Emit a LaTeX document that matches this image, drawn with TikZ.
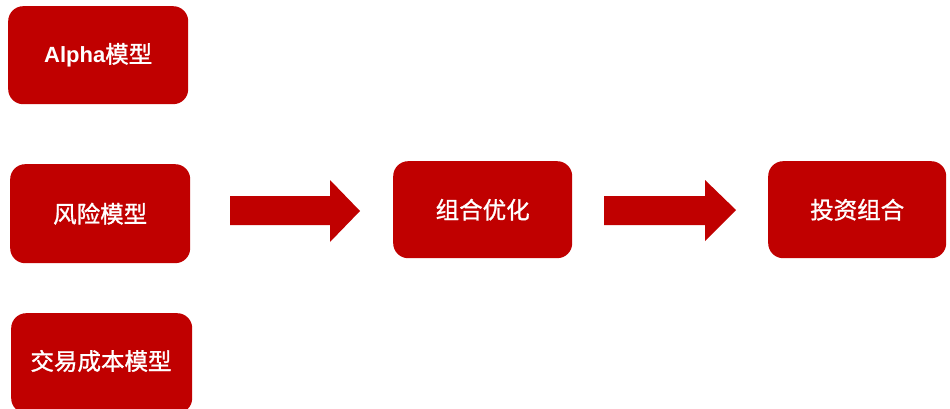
\documentclass[tikz,border=0pt]{standalone}
\usepackage{fontspec}
\setmainfont{Liberation Sans}
\newfontfamily\cjk{Noto Sans CJK SC}[FakeBold=1.2]
\definecolor{boxred}{HTML}{C00000}
\tikzset{
  redbox/.style={fill=boxred, draw=none, rounded corners=15pt, text=white, inner sep=0pt, anchor=north west},
  cjktext/.style={font=\fontsize{23.5}{28}\selectfont\cjk}
}
\begin{document}
\begin{tikzpicture}[x=1pt,y=-1pt]
\useasboundingbox (0,0) rectangle (950,409);
\fill[white] (0,0) rectangle (950,409);
% boxes
\node[redbox, minimum width=180pt, minimum height=98pt] (alpha) at (8,6) {};
\node[text=white, font=\fontsize{22}{28}\selectfont\bfseries] at (alpha.center) {Alpha{\fontsize{23.5}{28}\selectfont\mdseries\cjk 模型}};
\node[redbox, minimum width=180pt, minimum height=99pt, cjktext] (risk) at (10,164) {风险模型};
\node[redbox, minimum width=181pt, minimum height=100pt] (cost) at (11,313) {};
\node[text=white, cjktext] at (101,361) {交易成本模型};
\node[redbox, minimum width=179pt, minimum height=97pt, cjktext] (opt) at (393,161) {组合优化};
\node[redbox, minimum width=178pt, minimum height=97pt, cjktext] (port) at (768,161) {投资组合};
% arrows
\fill[boxred] (230,196) -- (330,196) -- (330,180) -- (360,211) -- (330,242) -- (330,225) -- (230,225) -- cycle;
\fill[boxred] (604,196) -- (705,196) -- (705,180) -- (736,210) -- (705,241) -- (705,225) -- (604,225) -- cycle;
\end{tikzpicture}
\end{document}
